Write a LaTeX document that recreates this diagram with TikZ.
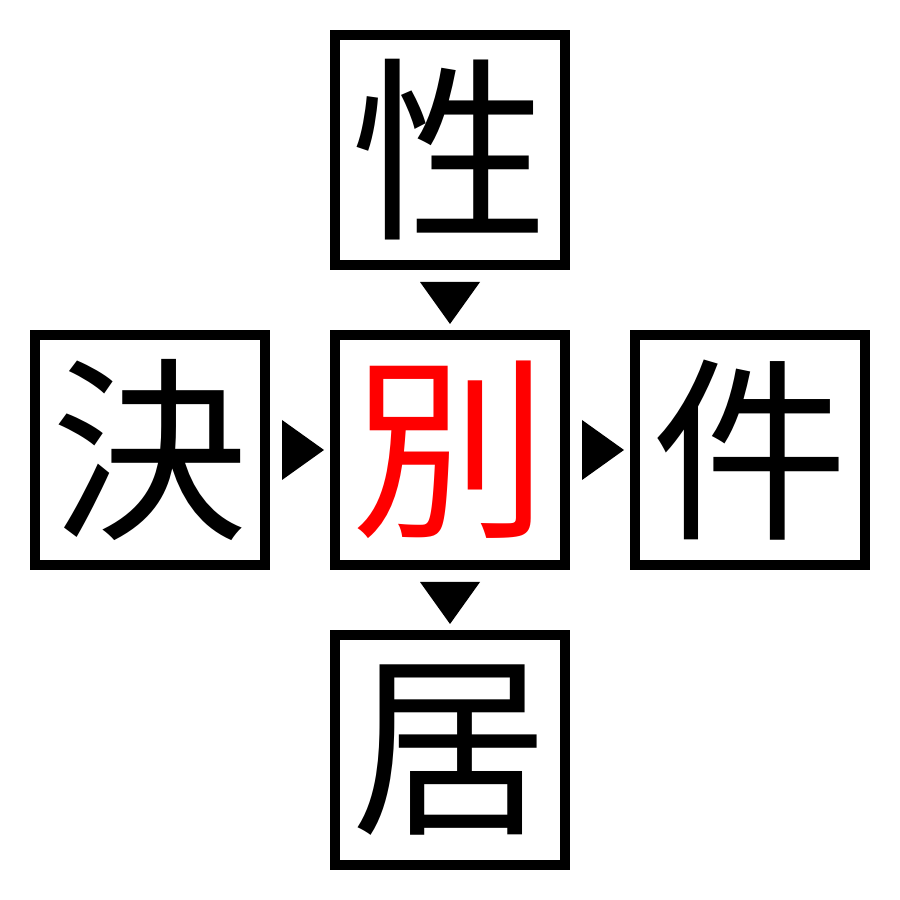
\documentclass[tikz,border=0pt]{standalone}
\usepackage{fontspec}
\newfontfamily\cjk{Noto Sans CJK JP}

\begin{document}
\begin{tikzpicture}
		[
		x=1cm, y=1cm, scale=1.0, font=\cjk\fontsize{56}{56}\selectfont,
		%Voreinstellung für die Kästchen
		zeichen/.style={draw, line width=0.1cm, minimum size=2.3cm, inner sep=0pt},
		pfeil/.style={fill=black}
		]
		
		%Rahmen des Bildes
		\useasboundingbox (0,0) rectangle (9,9);
		
		%Kästchen
		\node[zeichen] (mitte) at (4.5,4.5) {\textcolor{red}{別}};
		\node[zeichen] (oben) at (4.5,7.5) {性};
		\node[zeichen] (unten) at (4.5,1.5) {居};
		\node[zeichen] (links) at (1.5,4.5) {決};
		\node[zeichen] (rechts) at (7.5,4.5) {件};
		
		%Dreieck oben nach Mitte
		\fill[pfeil] (oben.south) ++(-0.3,-0.12) -- ++(0.6,0) -- ++(-0.3,-0.42) -- cycle;
		
		%Dreieck links nach Mitte
		\fill[pfeil] (links.east) ++(0.12,0.3) -- ++(0,-0.6) -- ++(0.42,0.3) -- cycle;
		
		%Dreieck Mitte nach rechts
		\fill[pfeil] (mitte.east) ++(0.12,0.3) -- ++(0,-0.6) -- ++(0.42,0.3) -- cycle;
		
		%Dreieck Mitte nach unten
		\fill[pfeil] (mitte.south) ++(-0.3,-0.12) -- ++(0.6,0) -- ++(-0.3,-0.42) -- cycle;
		
	\end{tikzpicture}
\end{document}
